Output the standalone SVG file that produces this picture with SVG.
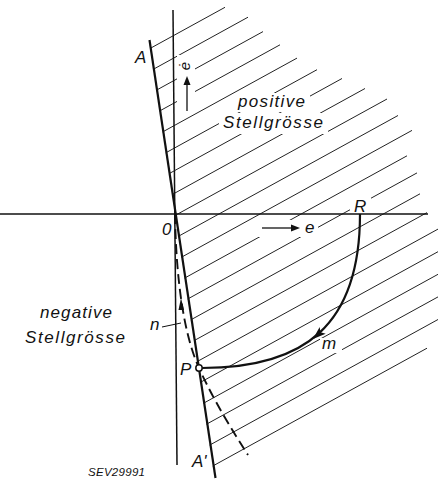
<svg xmlns="http://www.w3.org/2000/svg" width="438" height="479" viewBox="0 0 438 479">
<style>
.h{stroke:#222;stroke-width:1;fill:none}
.ax{stroke:#111;stroke-width:1.5;fill:none}
.th{stroke:#111;stroke-width:2.2;fill:none}
.t{font-family:"Liberation Sans",Arial,sans-serif;font-style:italic;font-size:17px;fill:#111}
.s{font-size:11.5px}
.d{font-size:15px}
.ah{fill:#111;stroke:none}
</style>
<defs>
<mask id="lbl">
<rect x="0" y="0" width="438" height="479" fill="#fff"/>
<rect x="177" y="55" width="18" height="58" fill="#000"/>
<rect x="234" y="93" width="76" height="19" fill="#000"/>
<rect x="219" y="113" width="109" height="21" fill="#000"/>
<rect x="257" y="220" width="61" height="17" fill="#000"/>
<rect x="350" y="196" width="21" height="17" fill="#000"/>
<rect x="320" y="338" width="22" height="15" fill="#000"/>
</mask>
</defs>
<rect width="438" height="479" fill="#fff"/>
<g id="hatching" mask="url(#lbl)">
<line class="h" x1="150.2" y1="48.4" x2="225" y2="7.3"/>
<line class="h" x1="153.3" y1="69.3" x2="248" y2="17.2"/>
<line class="h" x1="156.4" y1="90.2" x2="263" y2="31.6"/>
<line class="h" x1="159.6" y1="111.0" x2="280" y2="44.8"/>
<line class="h" x1="162.7" y1="131.9" x2="297" y2="58.1"/>
<line class="h" x1="165.8" y1="152.8" x2="317" y2="69.7"/>
<line class="h" x1="169.0" y1="173.7" x2="342" y2="78.5"/>
<line class="h" x1="172.1" y1="194.6" x2="365" y2="88.5"/>
<line class="h" x1="175.2" y1="215.4" x2="387" y2="99.0"/>
<line class="h" x1="178.4" y1="236.3" x2="398" y2="115.5"/>
<line class="h" x1="181.5" y1="257.2" x2="412" y2="130.4"/>
<line class="h" x1="184.6" y1="278.1" x2="407" y2="155.8"/>
<line class="h" x1="187.7" y1="299.0" x2="417" y2="172.9"/>
<line class="h" x1="190.9" y1="319.8" x2="420" y2="193.8"/>
<line class="h" x1="194.0" y1="340.7" x2="427" y2="212.6"/>
<line class="h" x1="197.1" y1="361.6" x2="438" y2="229.1"/>
<line class="h" x1="200.3" y1="382.4" x2="438" y2="251.7"/>
<line class="h" x1="203.4" y1="403.3" x2="438" y2="274.3"/>
<line class="h" x1="206.5" y1="424.2" x2="438" y2="296.9"/>
<line class="h" x1="209.7" y1="445.1" x2="438" y2="319.5"/>
<line class="h" x1="212.8" y1="466.0" x2="427" y2="348.2"/>
</g>
<g id="axes">
<line class="ax" x1="173" y1="10" x2="177" y2="465"/>
<line class="ax" x1="0" y1="214" x2="428" y2="214"/>
</g>
<g id="connectors">
<path id="line-AA" class="th" d="M149.5,40 L215.5,478"/>
<path id="curve-n" d="M175,214 C176,280 184,335 199,368 S232,430 248,455" fill="none" stroke="#111" stroke-width="1.9" stroke-dasharray="10 5"/>
<polygon class="ah" points="181,298 184,310 178.5,310"/>
<path d="M162,327 L181,323" fill="none" stroke="#111" stroke-width="1"/>
<path id="curve-m" class="th" d="M360,214 C360,325 305,368 202,368"/>
<polygon class="ah" points="0,0 -13,-4.5 -10,0 -13,4.5" transform="translate(313,339) rotate(138)"/>
<line x1="262" y1="228" x2="293" y2="228" stroke="#111" stroke-width="1.3"/>
<polygon class="ah" points="300,228 291,224.5 291,231.5"/>
<line x1="187" y1="111" x2="187" y2="83" stroke="#111" stroke-width="1.3"/>
<polygon class="ah" points="187,76 183.5,85 190.5,85"/>
</g>
<g id="node-P">
<circle cx="199" cy="368" r="3.2" fill="#fff" stroke="#111" stroke-width="1.5"/>
<text class="t" x="180" y="375">P</text>
</g>
<g id="labels">
<text class="t" x="135" y="63">A</text>
<text class="t" x="192" y="467">A'</text>
<text class="t" x="162" y="235">0</text>
<text class="t" x="354" y="212">R</text>
<text class="t" x="305" y="233">e</text>
<text class="t" x="322" y="349">m</text>
<text class="t" x="150" y="330">n</text>
<text class="t d" transform="translate(190,66) rotate(-90)" text-anchor="middle">ė</text>
<text class="t" x="238" y="107" textLength="67" lengthAdjust="spacing">positive</text>
<text class="t" x="223" y="128" textLength="100" lengthAdjust="spacing">Stellgrösse</text>
<text class="t" x="40" y="318" textLength="72" lengthAdjust="spacing">negative</text>
<text class="t" x="25" y="343" textLength="100" lengthAdjust="spacing">Stellgrösse</text>
<text class="t s" x="88" y="476" textLength="57" lengthAdjust="spacing">SEV29991</text>
</g>
</svg>
